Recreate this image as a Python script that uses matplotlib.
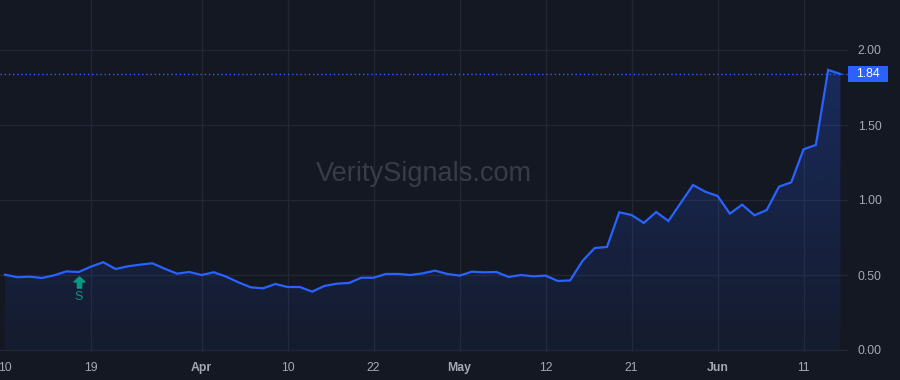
import numpy as np
import pandas as pd
import matplotlib
matplotlib.use("Agg")
import matplotlib.pyplot as plt
import matplotlib.transforms as mtransforms
from matplotlib.path import Path
from matplotlib.patches import Rectangle

plt.rcParams['font.family'] = ['Liberation Sans', 'DejaVu Sans']

# ---- data ----
start_date = "2025-03-10"
end_date = "2025-06-16"
market_holidays = ["2025-04-18", "2025-05-26"]

prices = [0.502, 0.485, 0.489, 0.480, 0.498, 0.524, 0.520, 0.556, 0.585, 0.540,
          0.558, 0.569, 0.578, 0.542, 0.509, 0.520, 0.500, 0.518, 0.489, 0.451,
          0.418, 0.411, 0.440, 0.420, 0.420, 0.389, 0.427, 0.442, 0.447, 0.482,
          0.482, 0.507, 0.507, 0.500, 0.511, 0.529, 0.507, 0.496, 0.522, 0.518,
          0.520, 0.487, 0.500, 0.491, 0.496, 0.460, 0.464, 0.593, 0.680, 0.687,
          0.918, 0.900, 0.847, 0.920, 0.860, 0.980, 1.100, 1.055, 1.027, 0.909,
          0.969, 0.898, 0.933, 1.089, 1.118, 1.338, 1.367, 1.867, 1.840]

tick_dates = ["2025-03-10", "2025-03-19", "2025-04-01", "2025-04-10", "2025-04-22",
              "2025-05-01", "2025-05-12", "2025-05-21", "2025-06-02", "2025-06-11"]
tick_labels = ["10", "19", "Apr", "10", "22", "May", "12", "21", "Jun", "11"]
month_labels = {"Apr", "May", "Jun"}

y_ticks = [0.0, 0.5, 1.0, 1.5, 2.0]
last_price = 1.84
signal_date = "2025-03-18"
signal_text = "S"
watermark = "VeritySignals.com"

# ---- styles ----
bg = "#141823"
grid_c = "#232733"
line_c = "#2962ff"
label_c = "#a5a8b1"
sig_c = "#089981"

days = pd.bdate_range(start_date, end_date, freq="C", holidays=market_holidays)
xi = np.arange(len(days))
pos = {d.strftime("%Y-%m-%d"): i for i, d in enumerate(days)}
y = np.array(prices)

W, H = 900, 380
fig = plt.figure(figsize=(W / 100, H / 100), dpi=100, facecolor=bg)
ax = fig.add_axes([0, 28 / H, 848 / W, 352 / H])
ax.set_facecolor(bg)
px_per_day = 86 / 7
ax.set_xlim(-5 / px_per_day, 843 / px_per_day)
ax.set_ylim(-2 / 150, 350 / 150)
for s in ax.spines.values():
    s.set_visible(False)

# grid
for v in y_ticks:
    ax.axhline(v, color=grid_c, lw=1, zorder=0)
tick_pos = [pos[d] for d in tick_dates]
for p in tick_pos[1:]:
    ax.axvline(p, color=grid_c, lw=1, zorder=0)

# gradient fill under the line
verts = np.vstack([[xi[0], 0], np.column_stack([xi, y]), [xi[-1], 0]])
poly = plt.Polygon(verts, closed=True, fc="none", ec="none")
ax.add_patch(poly)
ymax = y.max()
grad = np.zeros((256, 1, 4))
rgb = matplotlib.colors.to_rgb(line_c)
grad[:, 0, 0:3] = rgb
grad[:, 0, 3] = np.linspace(0.05, 0.26, 256)
im = ax.imshow(grad, aspect="auto", extent=[xi[0], xi[-1], 0, ymax],
               origin="lower", zorder=1, interpolation="bilinear")
im.set_clip_path(poly)

ax.plot(xi, y, color=line_c, lw=1.6, zorder=3, solid_joinstyle="miter")

# last price dotted line
ax.axhline(last_price, color=line_c, lw=1, ls=(0, (1, 2)), zorder=2)

# ticks
ax.set_xticks(tick_pos)
ax.set_xticklabels(tick_labels)
for lab in ax.get_xticklabels():
    if lab.get_text() in month_labels:
        lab.set_fontweight("bold")
ax.tick_params(axis="x", length=0, pad=7.5, labelsize=8.8, colors=label_c)
ax.yaxis.tick_right()
ax.set_yticks(y_ticks)
ax.set_yticklabels([f"{v:.2f}" for v in y_ticks])
ax.tick_params(axis="y", length=0, pad=7, labelsize=8.8, colors=label_c)

# last price tag
tr = mtransforms.blended_transform_factory(fig.transFigure, ax.transData)
ax.add_patch(Rectangle((848 / W, last_price - 7.5 / 150), 40 / W, 15 / 150,
                       transform=tr, fc=line_c, ec="none", clip_on=False, zorder=5))
ax.text(868 / W, last_price, f"{last_price:.2f}", transform=tr, ha="center",
        va="center", color="white", fontsize=8.8, zorder=6, clip_on=False)

# signal marker
sx = pos[signal_date]
sy = prices[sx]
arrow = Path([(0, 1), (1, 0.1), (0.38, 0.1), (0.38, -1), (-0.38, -1), (-0.38, 0.1),
              (-1, 0.1), (0, 1)], closed=True)
off_a = mtransforms.offset_copy(ax.transData, fig=fig, x=0, y=-10, units="dots")
ax.plot([sx], [sy], marker=arrow, markersize=8, color=sig_c, mec=sig_c,
        transform=off_a, zorder=4, clip_on=False)
off_s = mtransforms.offset_copy(ax.transData, fig=fig, x=0, y=-25, units="dots")
ax.text(sx, sy, signal_text, transform=off_s, ha="center", va="center",
        color=sig_c, fontsize=9, zorder=4)

# watermark
ax.text(0.5, 0.505, watermark, transform=ax.transAxes, ha="center",
        va="center", color="#383c48", fontsize=19.5, zorder=1)

fig.savefig("out.png", dpi=100, facecolor=bg)
